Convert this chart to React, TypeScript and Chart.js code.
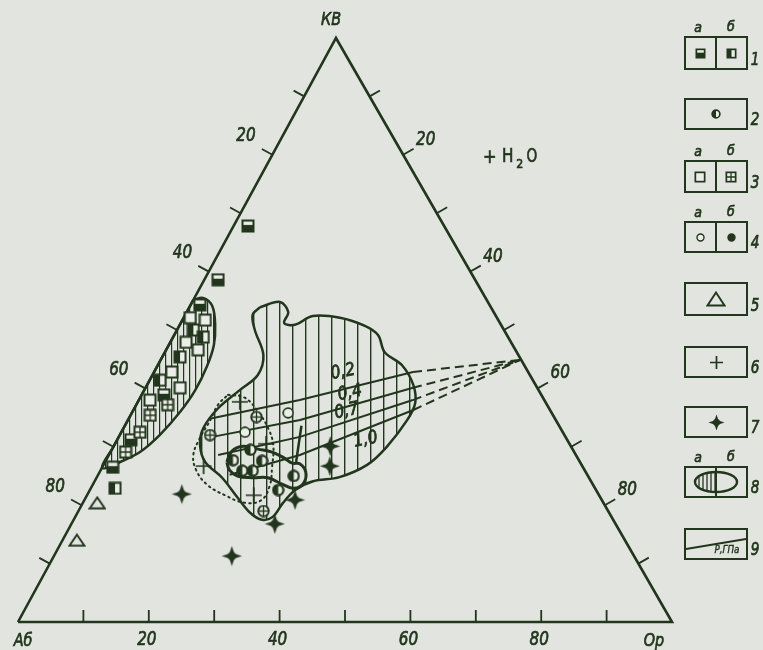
import React, { useEffect, useRef } from 'react';
import { Chart, registerables } from 'chart.js';

Chart.register(...registerables);

const INK = '#22351d';
const PAPER = '#e2e4df';
const LIGHT = '#eceee9';

// Horizontal position of the KB apex along the Ab–Or base (0 = over Ab, 1 = over Or).
const SKEW = 0.4862;
// Fixed padding of the plot area, and the visible window of the ternary frame inside it
// (base runs 0..100 in Or %, height 0..100 in KB %).
const PAD = 4;
const X_RANGE = [-2.141, 113.3];
const Y_RANGE = [-4.11, 105.82];

// All compositions are [KB %, Or %]; Ab = 100 − KB − Or.
type KO = [number, number];

const triangleCorners: KO[] = [[0, 0], [0, 100], [100, 0], [0, 0]];
const tickSteps = [10, 20, 30, 40, 50, 60, 70, 80, 90];
const tickLabels = [20, 40, 60, 80];

// Field 8: samples from the albite-rich edge
const edgeField: KO[] = [
  [55.1, 0], [55.5, 1.3], [54.1, 3.4], [50.9, 5.4], [47.4, 6.9], [43.8, 7.6], [39.7, 7.8],
  [36.0, 7.3], [32.0, 6.1], [29.1, 4.5], [27.4, 2.3], [26.4, 0], [30, 0], [35, 0], [40, 0],
  [45, 0], [50, 0], [55.1, 0],
];

// Field 8: main field in the centre of the diagram
const centralField: KO[] = [
  [53.9, 10.8], [54.8, 13.4], [53.1, 15.5], [51.2, 15.8], [50.9, 17.6], [52.4, 19.6],
  [52.1, 23.9], [50.7, 28.4], [49.1, 31.2], [46.2, 33.6], [44.0, 37.3], [40.6, 40.7],
  [37.5, 42.5], [34.6, 42.7], [30.0, 41.8], [26.9, 40.3], [24.8, 37.1], [24.1, 33.4],
  [22.6, 31.4], [20.4, 30.6], [18.0, 30.2], [17.5, 28.8], [18.7, 26.4], [21.4, 23.1],
  [24.7, 19.2], [27.4, 15.3], [30.3, 13.1], [33.2, 12.2], [36.6, 12.8], [39.7, 14.6],
  [42.3, 16.1], [45.7, 15.3], [50.0, 11.9], [52.6, 10.3], [53.9, 10.8],
];

// Dotted contour on the left of the main field
const dottedField: KO[] = [
  [38.9, 13.2], [38.4, 16.0], [36.0, 19.2], [33.2, 22.1], [30.3, 24.3], [26.4, 26.0],
  [23.5, 27.1], [20.9, 27.1], [20.4, 24.8], [21.7, 21.1], [23.5, 17.5], [26.0, 14.6],
  [28.6, 12.9], [31.5, 12.5], [34.6, 12.6], [37.2, 12.5], [38.9, 13.2],
];

// Bold contour (8б) inside the main field
const innerField: KO[] = [
  [27.4, 18.6], [29.3, 18.5], [30.1, 19.8], [29.6, 22.3], [29.1, 24.7], [28.1, 27.0],
  [27.2, 28.7], [27.1, 29.9], [25.7, 31.5], [23.8, 32.1], [22.9, 31.1], [23.6, 28.9],
  [24.7, 26.2], [24.7, 23.8], [25.0, 21.4], [26.0, 19.7], [27.4, 18.6],
];
const innerSpur: KO[] = [[33.6, 27.0], [27.4, 29.2]];

// Isobars of the cotectic, converging on the H2O-side point of the Or–KB edge
const isoNames = ['0,2', '0,4', '0,7', '1,0'];
const iso02: KO[] = [[34.9, 12.7], [38.0, 24.6], [42.8, 39.6], [44.9, 55.0]];
const iso04: KO[] = [[31.7, 14.3], [34.6, 26.3], [40.1, 40.9], [44.9, 55.0]];
const iso07: KO[] = [[28.6, 16.7], [31.7, 27.7], [38.0, 41.9], [44.9, 55.0]];
const iso10: KO[] = [[25.2, 20.1], [28.6, 29.2], [36.3, 42.8], [44.9, 55.0]];
const isoLabelAt: KO[] = [[42.8, 28.9], [39.2, 31.7], [36.1, 32.7], [31.2, 38.0]];

// Where the "+H2O" note sits (outside the triangle, beside the KB–Or edge)
const waterNoteAt: KO = [79.6, 36.8];

// Point symbols
const squaresHalfBottom: KO[] = [[67.8, 2.2], [58.6, 2.1], [54.3, 1.4], [26.5, 1.6], [31.2, 2.1], [38.9, 3.4]];
const squaresHalfLeft: KO[] = [[22.9, 3.7], [50.0, 2.5], [45.4, 2.7], [48.8, 4.6], [41.4, 1.6]];
const squaresOpen: KO[] = [[52.1, 1.0], [51.7, 3.5], [47.9, 2.4], [46.6, 4.9], [42.8, 2.7], [40.1, 5.3], [38.0, 1.7]];
const squaresCrossed: KO[] = [[32.5, 2.85], [35.4, 3.0], [29.1, 2.3], [37.2, 4.8]];
const circlesHalf: KO[] = [[29.5, 21.2], [27.7, 19.4], [27.6, 23.9], [25.9, 23.3], [25.9, 21.7], [25.0, 30.0], [22.6, 28.8]];
const circlesOpen: KO[] = [[35.8, 23.9], [32.5, 18.9]];
const circlesCrossed: KO[] = [[35.1, 19.4], [32.0, 13.8], [19.0, 28.3]];
const triangles: KO[] = [[20.4, 2.2], [14.0, 2.2]];
const crosses: KO[] = [[37.7, 15.6], [30.5, 23.1], [26.7, 15.4], [21.7, 25.5]];
const stars: KO[] = [[21.9, 14.4], [11.3, 27.2], [16.8, 31.1], [20.9, 32.2], [30.1, 33.1], [26.7, 34.7]];

// Legend rows: number and whether the box is split into а / б
const legendNums = ['1', '2', '3', '4', '5', '6', '7', '8', '9'];
const legendSplit = [true, false, true, true, false, false, false, true, false];
const legendTops = [37, 99, 161, 222, 283, 347, 407, 467, 529];
const legendHeights = [32, 30, 31, 30, 32, 30, 30, 30, 30];

const tern = (kb: number, or: number) => ({ x: or + SKEW * kb, y: kb });
const pts = (list: KO[]) => list.map(([kb, or]) => tern(kb, or));

function makeCanvas(w: number, h: number, draw: (g: CanvasRenderingContext2D) => void) {
  const c = document.createElement('canvas');
  c.width = w;
  c.height = h;
  const g = c.getContext('2d') as CanvasRenderingContext2D;
  draw(g);
  return c;
}

function squareMark(s: number, kind: string) {
  return makeCanvas(s, s, (g) => {
    const lw = s > 12 ? 2 : 1.7;
    const a = lw / 2 + 0.5;
    const w = s - 2 * a;
    g.fillStyle = LIGHT;
    g.fillRect(a, a, w, w);
    g.fillStyle = INK;
    if (kind === 'bottom') g.fillRect(a, a + w * 0.4, w, w * 0.6);
    if (kind === 'left') g.fillRect(a, a, w * 0.5, w);
    g.strokeStyle = INK;
    g.lineWidth = lw;
    g.strokeRect(a, a, w, w);
    if (kind === 'cross') {
      g.lineWidth = 1.3;
      g.beginPath();
      g.moveTo(s / 2, a);
      g.lineTo(s / 2, a + w);
      g.moveTo(a, s / 2);
      g.lineTo(a + w, s / 2);
      g.stroke();
    }
  });
}

function circleMark(d: number, kind: string, lw: number) {
  return makeCanvas(d, d, (g) => {
    const c = d / 2;
    const r = d / 2 - lw / 2 - 0.3;
    g.beginPath();
    g.arc(c, c, r, 0, Math.PI * 2);
    g.fillStyle = kind === 'filled' ? INK : LIGHT;
    g.fill();
    if (kind === 'half') {
      g.beginPath();
      g.moveTo(c, c - r);
      g.arc(c, c, r, -Math.PI / 2, Math.PI / 2, true);
      g.closePath();
      g.fillStyle = INK;
      g.fill();
    }
    g.strokeStyle = INK;
    g.lineWidth = lw;
    g.beginPath();
    g.arc(c, c, r, 0, Math.PI * 2);
    g.stroke();
    if (kind === 'cross') {
      g.lineWidth = 1.3;
      g.beginPath();
      g.moveTo(c, c - r);
      g.lineTo(c, c + r);
      g.moveTo(c - r, c);
      g.lineTo(c + r, c);
      g.stroke();
    }
  });
}

function triangleMark(w: number, h: number) {
  return makeCanvas(w, h, (g) => {
    g.beginPath();
    g.moveTo(w / 2, 1.5);
    g.lineTo(w - 1.5, h - 1.5);
    g.lineTo(1.5, h - 1.5);
    g.closePath();
    g.fillStyle = PAPER;
    g.fill();
    g.strokeStyle = INK;
    g.lineWidth = 1.9;
    g.lineJoin = 'miter';
    g.stroke();
  });
}

function plusMark(s: number) {
  return makeCanvas(s, s, (g) => {
    g.strokeStyle = INK;
    g.lineWidth = 1.7;
    g.beginPath();
    g.moveTo(s / 2, 1);
    g.lineTo(s / 2, s - 1);
    g.moveTo(1, s / 2);
    g.lineTo(s - 1, s / 2);
    g.stroke();
  });
}

function starMark(s: number) {
  return makeCanvas(s, s, (g) => {
    const c = s / 2;
    const R = s / 2 - 0.5;
    const r = s * 0.12;
    g.fillStyle = INK;
    g.beginPath();
    g.moveTo(c, c - R);
    g.lineTo(c + r, c - r);
    g.lineTo(c + R, c);
    g.lineTo(c + r, c + r);
    g.lineTo(c, c + R);
    g.lineTo(c - r, c + r);
    g.lineTo(c - R, c);
    g.lineTo(c - r, c - r);
    g.closePath();
    g.fill();
    g.beginPath();
    g.arc(c, c, r * 1.7, 0, Math.PI * 2);
    g.fill();
  });
}

function hatch(step: number, lw: number) {
  return makeCanvas(step, 4, (g) => {
    g.fillStyle = INK;
    g.fillRect(Math.floor(step / 2), 0, lw, 4);
  });
}

function drawText(
  ctx: CanvasRenderingContext2D, text: string, x: number, y: number,
  size: number, italic: boolean, squeeze = 0.8, angle = 0, weight = 0.7,
) {
  ctx.save();
  ctx.translate(x, y);
  if (angle) ctx.rotate(angle);
  ctx.scale(squeeze, 1);
  ctx.font = `${italic ? 'italic ' : ''}${size}px "DejaVu Sans", sans-serif`;
  ctx.fillStyle = INK;
  ctx.strokeStyle = INK;
  ctx.lineWidth = weight;
  ctx.textAlign = 'center';
  ctx.textBaseline = 'middle';
  ctx.fillText(text, 0, 0);
  if (weight > 0) ctx.strokeText(text, 0, 0);
  ctx.restore();
}

export default function App() {
  const canvasRef = useRef<HTMLCanvasElement | null>(null);

  useEffect(() => {
    document.body.style.margin = '0';
    document.body.style.background = PAPER;
    const canvas = canvasRef.current;
    if (!canvas) return;
    const ctx0 = canvas.getContext('2d') as CanvasRenderingContext2D;

    const wideHatch = ctx0.createPattern(hatch(13, 1.4), 'repeat');
    const denseHatch = ctx0.createPattern(hatch(6, 1.2), 'repeat');

    const m = {
      sqBottom: squareMark(14, 'bottom'),
      sqLeft: squareMark(14, 'left'),
      sqOpen: squareMark(14, 'open'),
      sqCross: squareMark(14, 'cross'),
      cHalf: circleMark(13, 'half', 2.2),
      cOpen: circleMark(12, 'open', 1.6),
      cCross: circleMark(13, 'cross', 1.8),
      tri: triangleMark(18, 14),
      plus: plusMark(18),
      star: starMark(21),
    };
    const lg = {
      sqBottom: squareMark(11, 'bottom'),
      sqLeft: squareMark(11, 'left'),
      sqOpen: squareMark(12, 'open'),
      sqCross: squareMark(12, 'cross'),
      cHalf: circleMark(10, 'half', 1.6),
      cOpen: circleMark(9, 'open', 1.4),
      cFilled: circleMark(9, 'filled', 1.4),
      tri: triangleMark(20, 16),
      plus: plusMark(15),
      star: starMark(17),
    };

    const outline = (data: KO[], extra: object) => ({
      data: pts(data),
      borderColor: INK,
      pointRadius: 0,
      pointBorderWidth: 0,
      showLine: true,
      fill: false,
      ...extra,
    });

    const isoline = (data: KO[]) => outline(data, {
      borderWidth: 2,
      tension: 0,
      order: 2,
      segment: {
        borderDash: (c: any) => (c.p0DataIndex >= 2 ? [9, 5] : undefined),
      },
    });

    const symbols = (data: KO[], style: HTMLCanvasElement) => ({
      data: pts(data),
      showLine: false,
      borderWidth: 0,
      pointStyle: style,
      pointRadius: 1,
      pointBorderWidth: 0,
      order: 0,
    });

    const framePlugin = {
      id: 'frame',
      beforeDraw(chart: any) {
        const c = chart.ctx as CanvasRenderingContext2D;
        c.save();
        c.fillStyle = PAPER;
        c.fillRect(0, 0, chart.width, chart.height);
        c.restore();
      },
      afterDatasetsDraw(chart: any) {
        const c = chart.ctx as CanvasRenderingContext2D;
        const sx = chart.scales.x;
        const sy = chart.scales.y;
        const px = (kb: number, or: number) => {
          const p = tern(kb, or);
          return [sx.getPixelForValue(p.x), sy.getPixelForValue(p.y)];
        };
        const A = px(0, 0);
        const O = px(0, 100);
        const K = px(100, 0);
        const unit = (a: number[], b: number[]) => {
          const dx = b[0] - a[0];
          const dy = b[1] - a[1];
          const l = Math.hypot(dx, dy);
          return [dx / l, dy / l];
        };
        const dL = unit(K, A);
        const nL = [-dL[1], dL[0]];
        const dR = unit(K, O);
        const nR = [dR[1], -dR[0]];

        c.save();
        c.strokeStyle = INK;
        c.lineWidth = 1.8;
        c.beginPath();
        tickSteps.forEach((p) => {
          const l = px(100 - p, 0);
          c.moveTo(l[0], l[1]);
          c.lineTo(l[0] + nL[0] * 12, l[1] + nL[1] * 12);
          const r = px(100 - p, p);
          c.moveTo(r[0], r[1]);
          c.lineTo(r[0] + nR[0] * 12, r[1] + nR[1] * 12);
          const b = px(0, p);
          c.moveTo(b[0], b[1]);
          c.lineTo(b[0], b[1] - 12);
        });
        c.stroke();
        c.restore();

        tickLabels.forEach((p) => {
          const l = px(100 - p, 0);
          drawText(c, String(p), l[0] + nL[0] * 30, l[1] + nL[1] * 30 - 4, 19, true);
          const r = px(100 - p, p);
          drawText(c, String(p), r[0] + nR[0] * 26, r[1] + nR[1] * 26 - 2, 19, true);
          const b = px(0, p);
          drawText(c, String(p), b[0] - 2, b[1] + 18, 19, true);
        });
        drawText(c, 'КВ', K[0] - 5, K[1] - 18, 18, true);
        drawText(c, 'Аб', A[0] + 5, A[1] + 19, 18, true);
        drawText(c, 'Ор', O[0] - 18, O[1] + 19, 18, true);

        // +H2O beside the KB–Or edge
        const h = px(waterNoteAt[0], waterNoteAt[1]);
        drawText(c, '+', h[0] - 22, h[1] + 1, 19, false, 0.85);
        drawText(c, 'H', h[0] - 4, h[1], 19, false, 0.8);
        drawText(c, '2', h[0] + 8, h[1] + 7, 13, false, 0.85);
        drawText(c, 'O', h[0] + 20, h[1], 19, false, 0.72);

        isoNames.forEach((name, i) => {
          const p = px(isoLabelAt[i][0], isoLabelAt[i][1]);
          drawText(c, name, p[0], p[1], 18, true, 0.85, -0.2, 0.8);
        });

        // Legend
        const L = 685;
        const R = 747;
        const M = 716;
        c.save();
        c.strokeStyle = INK;
        legendNums.forEach((num, i) => {
          const top = legendTops[i];
          const hgt = legendHeights[i];
          const cy = top + hgt / 2;
          c.lineWidth = 2;
          c.strokeRect(L, top, R - L, hgt);
          if (legendSplit[i]) {
            c.beginPath();
            c.moveTo(M, top);
            c.lineTo(M, top + hgt);
            c.stroke();
            drawText(c, 'а', 698, top - 9, 14, true, 0.9);
            drawText(c, 'б', 731, top - 10, 14, true, 0.9);
          }
          drawText(c, num, 755, top + hgt - 8, 17, true, 0.8);
          const put = (img: HTMLCanvasElement, x: number) =>
            c.drawImage(img, Math.round(x - img.width / 2), Math.round(cy - img.height / 2));
          if (i === 0) { put(lg.sqBottom, 700); put(lg.sqLeft, 731); }
          if (i === 1) put(lg.cHalf, M);
          if (i === 2) { put(lg.sqOpen, 700); put(lg.sqCross, 731); }
          if (i === 3) { put(lg.cOpen, 700); put(lg.cFilled, 731); }
          if (i === 4) put(lg.tri, M);
          if (i === 5) put(lg.plus, M);
          if (i === 6) put(lg.star, M);
          if (i === 7) {
            c.save();
            c.beginPath();
            c.ellipse(M, cy, 21, 10, 0, 0, Math.PI * 2);
            c.clip();
            c.lineWidth = 1.3;
            c.beginPath();
            for (let x = 699; x < M; x += 4) {
              c.moveTo(x, cy - 11);
              c.lineTo(x, cy + 11);
            }
            c.stroke();
            c.restore();
            c.lineWidth = 2.4;
            c.beginPath();
            c.ellipse(M, cy, 21, 10, 0, 0, Math.PI * 2);
            c.stroke();
          }
          if (i === 8) {
            c.lineWidth = 1.8;
            c.beginPath();
            c.moveTo(L + 1, cy + 5);
            c.lineTo(R - 1, cy - 5);
            c.stroke();
            drawText(c, 'Р,ГПа', 727, cy + 6, 11, true, 0.8, 0, 0.4);
          }
        });
        c.restore();
      },
    };

    const chart = new Chart(canvas, {
      type: 'line',
      data: {
        datasets: [
          symbols(stars, m.star),
          symbols(crosses, m.plus),
          symbols(triangles, m.tri),
          symbols(circlesCrossed, m.cCross),
          symbols(circlesOpen, m.cOpen),
          symbols(circlesHalf, m.cHalf),
          symbols(squaresOpen, m.sqOpen),
          symbols(squaresCrossed, m.sqCross),
          symbols(squaresHalfLeft, m.sqLeft),
          symbols(squaresHalfBottom, m.sqBottom),
          outline(innerField, { borderWidth: 3, tension: 0.4, order: 1 }),
          outline(innerSpur, { borderWidth: 2.5, tension: 0, order: 1 }),
          outline(dottedField, { borderWidth: 2, borderDash: [1.5, 4], borderCapStyle: 'round', tension: 0.4, order: 1 }),
          isoline(iso02),
          isoline(iso04),
          isoline(iso07),
          isoline(iso10),
          outline(centralField, { borderWidth: 2.5, tension: 0.35, fill: 'shape', backgroundColor: wideHatch, order: 3 }),
          outline(edgeField, { borderWidth: 2.5, tension: 0.35, fill: 'shape', backgroundColor: denseHatch, order: 3 }),
          outline(triangleCorners, { borderWidth: 2.6, tension: 0, order: 4, borderJoinStyle: 'miter' }),
        ] as any,
      },
      options: {
        responsive: false,
        animation: false,
        devicePixelRatio: 1,
        events: [],
        layout: { padding: PAD },
        plugins: { legend: { display: false }, tooltip: { enabled: false }, title: { display: false } },
        scales: {
          x: { type: 'linear', display: false, min: X_RANGE[0], max: X_RANGE[1] },
          y: { type: 'linear', display: false, min: Y_RANGE[0], max: Y_RANGE[1] },
        },
      },
      plugins: [framePlugin],
    });

    return () => chart.destroy();
  }, []);

  return <canvas ref={canvasRef} width={763} height={650} style={{ display: 'block' }} />;
}
